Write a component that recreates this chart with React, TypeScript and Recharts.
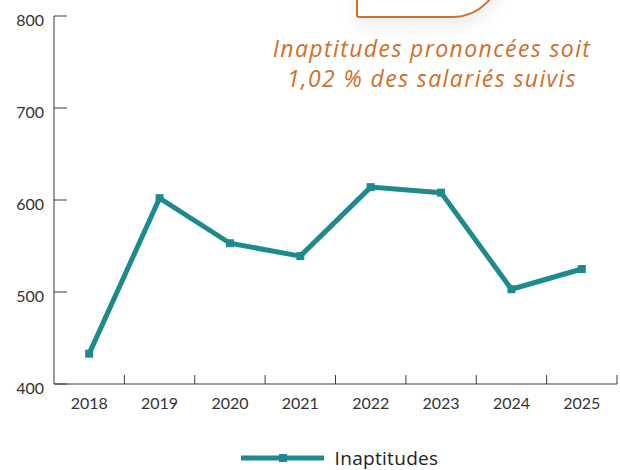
import { LineChart, Line, XAxis, YAxis, Legend } from 'recharts'

const YEARS = ['2018', '2019', '2020', '2021', '2022', '2023', '2024', '2025']
const INAPTITUDES = [433, 602, 553, 539, 614, 608, 503, 525]
const Y_TICKS = [400, 500, 600, 700, 800]

const TEAL = '#1E8A8E'
const ORANGE = '#CF6F2A'
const AXIS = '#3a3a3a'
const FONT = 'Lato, "Open Sans", sans-serif'
const FONT_WIDE = '"Open Sans", Lato, sans-serif'

const data = YEARS.map((year, i) => ({ year, value: INAPTITUDES[i] }))

// carré sur chaque point
// eslint-disable-next-line @typescript-eslint/no-explicit-any
function SquareDot(props: any) {
  const { cx, cy, index } = props
  if (cx == null || cy == null) return null
  return <rect key={index} x={cx - 4} y={cy - 4} width={8} height={8} fill={TEAL} />
}

// graduation de l'axe Y tournée vers l'intérieur
// eslint-disable-next-line @typescript-eslint/no-explicit-any
function YTick(props: any) {
  const { x, y, payload } = props
  return (
    <g>
      <line x1={x} x2={x + 13} y1={y} y2={y} stroke={AXIS} strokeWidth={1} />
      <text x={x - 10} y={y + 10} textAnchor="end" fill="#333" fontSize={16} fontFamily={FONT}>
        {payload.value}
      </text>
    </g>
  )
}

// graduation de l'axe X entre les années
// eslint-disable-next-line @typescript-eslint/no-explicit-any
function XTick(props: any) {
  const { x, y, payload, width, visibleTicksCount } = props
  const half = width / visibleTicksCount / 2
  return (
    <g>
      <line x1={x + half} x2={x + half} y1={y - 9} y2={y} stroke={AXIS} strokeWidth={1} />
      <text x={x} y={y + 25} textAnchor="middle" fill="#333" fontSize={16} fontFamily={FONT}>
        {payload.value}
      </text>
    </g>
  )
}

function LegendContent() {
  return (
    <div style={{ display: 'flex', justifyContent: 'center', alignItems: 'center', height: 24, paddingLeft: 62, fontFamily: FONT_WIDE }}>
      <svg width={83} height={10} style={{ marginRight: 11 }}>
        <line x1={0} x2={83} y1={5} y2={5} stroke={TEAL} strokeWidth={5} />
        <rect x={38} y={1} width={8} height={8} fill={TEAL} />
      </svg>
      <span style={{ fontSize: 19, color: '#222', letterSpacing: 0.3 }}>Inaptitudes</span>
    </div>
  )
}

export default function App() {
  return (
    <div style={{ position: 'absolute', left: 0, top: 0, width: 620, height: 470, background: '#fff', overflow: 'hidden', fontFamily: FONT }}>
      <LineChart width={620} height={470} data={data} margin={{ top: 16, right: 3, bottom: 0, left: 0 }}>
        <XAxis
          dataKey="year"
          scale="band"
          height={62}
          tickSize={0}
          tickMargin={0}
          tickLine={false}
          stroke={AXIS}
          interval={0}
          tick={<XTick />}
        />
        <YAxis
          domain={[400, 800]}
          ticks={Y_TICKS}
          width={54}
          tickSize={0}
          tickMargin={0}
          tickLine={false}
          stroke={AXIS}
          interval={0}
          tick={<YTick />}
        />
        <Legend verticalAlign="bottom" content={<LegendContent />} />
        <Line
          type="linear"
          dataKey="value"
          name="Inaptitudes"
          stroke={TEAL}
          strokeWidth={5}
          dot={<SquareDot />}
          activeDot={false}
          isAnimationActive={false}
        />
      </LineChart>
      <div
        style={{
          position: 'absolute',
          left: 356,
          top: -70,
          width: 142,
          height: 84,
          border: `2px solid ${ORANGE}`,
          borderBottomLeftRadius: 3,
          borderBottomRightRadius: 50,
          background: '#fff',
          boxShadow: '0 8px 18px rgba(0,0,0,0.08)',
        }}
      />
      <div
        style={{
          position: 'absolute',
          left: 230,
          top: 33,
          width: 404,
          textAlign: 'center',
          color: ORANGE,
          fontStyle: 'italic',
          fontSize: 23,
          lineHeight: '30px',
          letterSpacing: 1.4,
          fontFamily: FONT_WIDE,
          fontVariantLigatures: 'none',
        }}
      >
        Inaptitudes prononcées soit
        <br />
        1,02 % des salariés suivis
      </div>
    </div>
  )
}
